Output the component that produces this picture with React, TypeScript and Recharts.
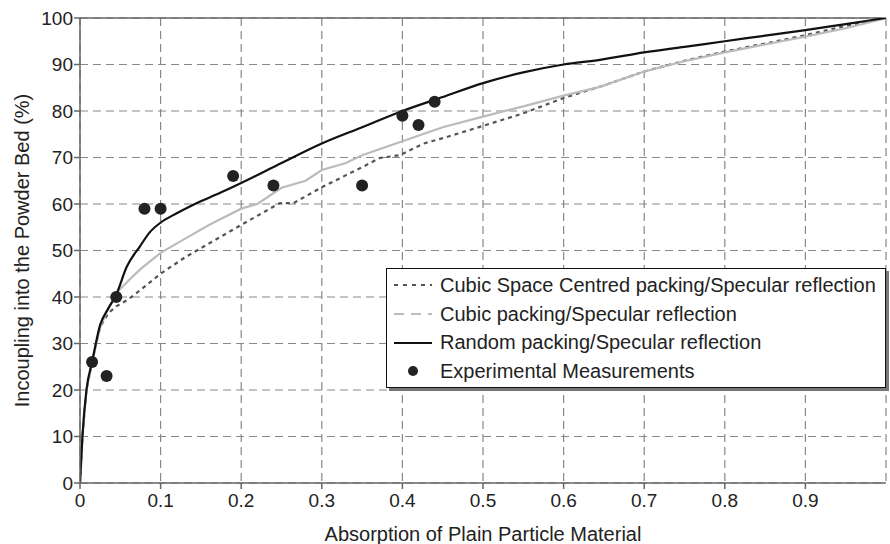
import React from "react";
import {
  ComposedChart,
  Line,
  Scatter,
  XAxis,
  YAxis,
  CartesianGrid,
  ReferenceLine,
  Label,
} from "recharts";

// Random packing / specular reflection (solid black)
const randomX = [0, 0.003, 0.008, 0.015, 0.025, 0.035, 0.045, 0.058, 0.074, 0.087, 0.1, 0.12, 0.14, 0.174, 0.2, 0.25, 0.3, 0.35, 0.4, 0.45, 0.5, 0.55, 0.6, 0.645, 0.7, 0.75, 0.8, 0.85, 0.9, 0.95, 1];
const randomY = [0, 10, 20, 26, 34, 37.5, 40.5, 46.5, 50.8, 54, 56, 58, 59.8, 62.4, 64.5, 68.8, 73, 76.5, 80, 83, 86, 88.3, 90, 91, 92.6, 93.8, 95, 96.2, 97.4, 98.7, 100];

// Cubic packing / specular reflection (light grey)
const cubicX = [0, 0.003, 0.008, 0.015, 0.025, 0.035, 0.046, 0.06, 0.075, 0.1, 0.13, 0.16, 0.2, 0.22, 0.25, 0.28, 0.3, 0.33, 0.35, 0.4, 0.45, 0.5, 0.55, 0.6, 0.645, 0.7, 0.75, 0.8, 0.85, 0.9, 0.95, 1];
const cubicY = [0, 10, 20, 26, 33.5, 37.5, 41, 43.5, 46, 49.5, 52.5, 55.5, 59, 60, 63.5, 65, 67.3, 68.8, 70.5, 73.5, 76.5, 78.8, 81, 83.3, 85.2, 88.5, 90.7, 92.6, 94.3, 96, 97.8, 100];

// Cubic space centred packing / specular reflection (dark grey dashed)
const ccX = [0, 0.003, 0.008, 0.015, 0.02, 0.025, 0.035, 0.045, 0.06, 0.075, 0.1, 0.13, 0.16, 0.2, 0.248, 0.265, 0.3, 0.351, 0.372, 0.397, 0.405, 0.426, 0.455, 0.5, 0.55, 0.6, 0.65, 0.7, 0.75, 0.8, 0.85, 0.9, 0.95, 1];
const ccY = [0, 10, 20, 26, 30, 33.5, 36.5, 38, 39.5, 41.5, 45, 48.5, 51.5, 55.5, 60.2, 60.2, 63.6, 68, 69.9, 70.5, 71.2, 73, 74.4, 76.8, 79.5, 82.8, 85.5, 88.5, 90.8, 92.8, 94.5, 96.3, 98.3, 100];

// Experimental measurements
const measX = [0.015, 0.033, 0.045, 0.08, 0.1, 0.19, 0.24, 0.35, 0.4, 0.42, 0.44];
const measY = [26, 23, 40, 59, 59, 66, 64, 64, 79, 77, 82];

const xTicks = [0, 0.1, 0.2, 0.3, 0.4, 0.5, 0.6, 0.7, 0.8, 0.9];
const yTicks = [0, 10, 20, 30, 40, 50, 60, 70, 80, 90, 100];

const legendItems = [
  "Cubic Space Centred packing/Specular reflection",
  "Cubic packing/Specular reflection",
  "Random packing/Specular reflection",
  "Experimental Measurements",
];

const toPoints = (xs: number[], ys: number[]) => xs.map((x, i) => ({ x, y: ys[i] }));

const FONT = "'Liberation Sans', Arial, sans-serif";
const tickStyle = { fill: "#222", fontSize: 19, fontFamily: FONT };

function LegendBox() {
  const samples = [
    <line x1={2} y1={8} x2={40} y2={8} stroke="#555" strokeWidth={2} strokeDasharray="4 5" />,
    <line x1={2} y1={8} x2={40} y2={8} stroke="#bbb" strokeWidth={2} strokeDasharray="10 7" />,
    <line x1={2} y1={8} x2={40} y2={8} stroke="#111" strokeWidth={2} />,
    <circle cx={21} cy={8} r={5} fill="#222" />,
  ];
  return (
    <div
      style={{
        position: "absolute",
        left: 386,
        top: 268,
        width: 500,
        height: 120,
        border: "1.5px solid #111",
        boxShadow: "3px 3px 0 #777",
        background: "#fff",
        fontFamily: FONT,
        fontSize: 20,
        color: "#222",
        boxSizing: "border-box",
        paddingTop: 2,
      }}
    >
      {legendItems.map((t, i) => (
        <div key={t} style={{ display: "flex", alignItems: "center", height: 28.7 }}>
          <svg width={46} height={16} style={{ marginLeft: 5, marginRight: 2 }}>
            {samples[i]}
          </svg>
          <span style={{ whiteSpace: "nowrap" }}>{t}</span>
        </div>
      ))}
    </div>
  );
}

export default function App() {
  return (
    <div style={{ position: "absolute", left: 0, top: 0, width: 890, height: 544, background: "#fff" }}>
      <ComposedChart width={890} height={544} margin={{ top: 18, right: 4, bottom: 0, left: 0 }}>
        <CartesianGrid stroke="#888" strokeDasharray="8 5" strokeWidth={1.2} />
        <XAxis
          type="number"
          dataKey="x"
          domain={[0, 1]}
          ticks={xTicks}
          tick={tickStyle}
          tickSize={6}
          tickMargin={5}
          height={61}
          stroke="#666"
          strokeWidth={1.5}
          allowDataOverflow
        >
          <Label
            value="Absorption of Plain Particle Material"
            position="insideBottom"
            offset={3}
            style={{ fill: "#222", fontSize: 20, fontFamily: FONT }}
          />
        </XAxis>
        <YAxis
          type="number"
          dataKey="y"
          domain={[0, 100]}
          ticks={yTicks}
          tick={tickStyle}
          tickSize={6}
          tickMargin={1}
          width={80}
          stroke="#666"
          strokeWidth={1.5}
          allowDataOverflow
        >
          <Label
            value="Incoupling into the Powder Bed (%)"
            angle={-90}
            position="insideLeft"
            offset={22}
            style={{ fill: "#222", fontSize: 20, fontFamily: FONT, textAnchor: "middle" }}
          />
        </YAxis>
        <ReferenceLine y={100} stroke="#666" strokeWidth={1.5} />
        <Line
          data={toPoints(ccX, ccY)}
          dataKey="y"
          type="linear"
          stroke="#555"
          strokeWidth={2.2}
          strokeDasharray="4 4"
          dot={false}
          isAnimationActive={false}
        />
        <Line
          data={toPoints(cubicX, cubicY)}
          dataKey="y"
          type="linear"
          stroke="#bbb"
          strokeWidth={2.2}
          dot={false}
          isAnimationActive={false}
        />
        <Line
          data={toPoints(randomX, randomY)}
          dataKey="y"
          type="monotone"
          stroke="#111"
          strokeWidth={2.2}
          dot={false}
          isAnimationActive={false}
        />
        <Scatter
          data={toPoints(measX, measY)}
          fill="#222"
          shape={(p: any) => <circle cx={p.cx} cy={p.cy} r={6} fill="#222" />}
          isAnimationActive={false}
        />
      </ComposedChart>
      <LegendBox />
    </div>
  );
}
